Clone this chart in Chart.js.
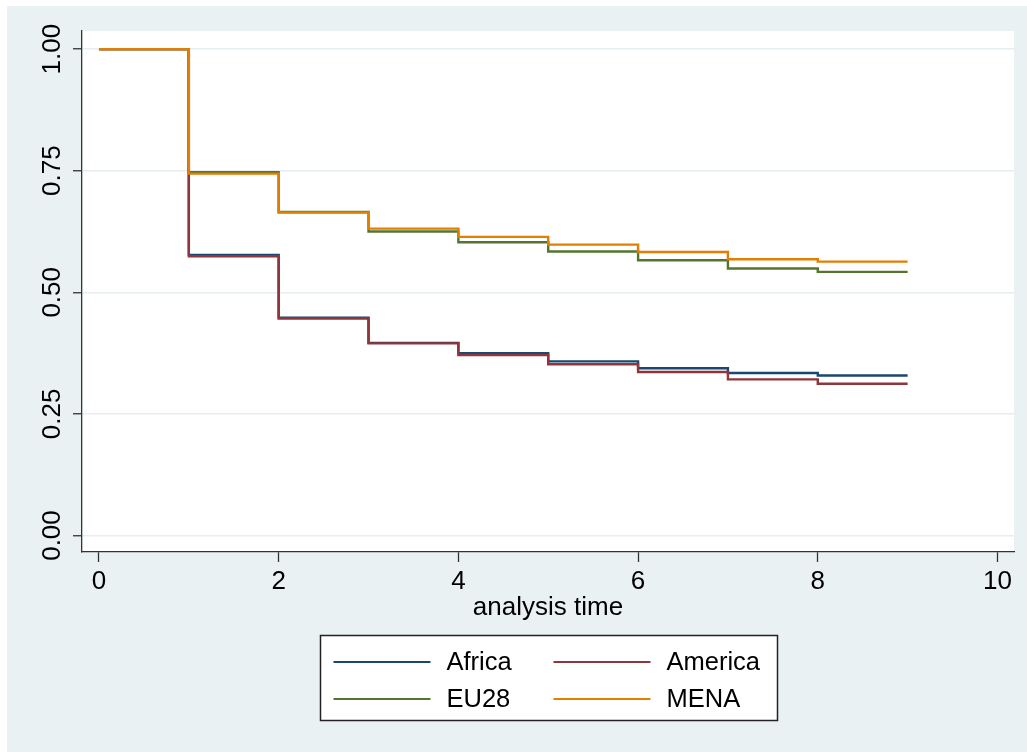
<!DOCTYPE html>
<html>
<head>
<meta charset="utf-8">
<title>Kaplan-Meier survival estimates by region</title>
<script src="https://cdn.jsdelivr.net/npm/chart.js@4.4.1/dist/chart.umd.min.js"></script>
<style>
  html, body { margin: 0; padding: 0; background: #ffffff; }
  #wrap { width: 1027px; height: 752px; }
  canvas { display: block; }
</style>
</head>
<body>
<div id="wrap"><canvas id="km" width="1027" height="752"></canvas></div>
<script>
// Analysis time (years) at which the survivor function is evaluated
const times = [0, 1, 2, 3, 4, 5, 6, 7, 8, 9];

// Survivor function estimates per region group (value holds until the next time)
const africa  = [1.000, 0.577, 0.448, 0.396, 0.375, 0.358, 0.344, 0.334, 0.329, 0.329];
const america = [1.000, 0.574, 0.446, 0.395, 0.371, 0.352, 0.336, 0.321, 0.312, 0.312];
const eu28    = [1.000, 0.747, 0.665, 0.625, 0.603, 0.584, 0.566, 0.549, 0.542, 0.542];
const mena    = [1.000, 0.744, 0.664, 0.631, 0.614, 0.598, 0.583, 0.568, 0.563, 0.563];

const seriesNames = ['Africa', 'America', 'EU28', 'MENA'];
const seriesValues = [africa, america, eu28, mena];
const seriesColors = ['#1a476f', '#90353b', '#55752f', '#e37e00'];

// Axis tick labels
const xTicks = [0, 2, 4, 6, 8, 10];
const yTicks = [0, 0.25, 0.5, 0.75, 1];
const xTitle = 'analysis time';

const FONT = "'Liberation Sans', Arial, Helvetica, sans-serif";
const regionColor = '#eaf1f3';
const gridColor = '#e6eef1';
const axisColor = '#333333';

// Graph region (bluish gray) and plot region (white)
const backgroundPlugin = {
  id: 'regions',
  beforeDraw(chart) {
    const { ctx, chartArea: a } = chart;
    ctx.save();
    ctx.fillStyle = '#ffffff';
    ctx.fillRect(0, 0, chart.width, chart.height);
    ctx.fillStyle = regionColor;
    ctx.fillRect(7, 6, chart.width - 7, chart.height - 6);
    ctx.fillStyle = '#ffffff';
    ctx.fillRect(a.left, a.top, a.right - a.left, a.bottom - a.top);
    ctx.restore();
  }
};

// Boxed two-column key beneath the axis title
const keyPlugin = {
  id: 'boxKey',
  afterDraw(chart) {
    const { ctx, chartArea: a } = chart;
    const boxW = 457, boxH = 85;
    const cx = (a.left + a.right) / 2;
    const left = Math.round(cx - boxW / 2) + 0.5;
    const top = 635.5;
    ctx.save();
    ctx.fillStyle = '#ffffff';
    ctx.fillRect(left, top, boxW, boxH);
    ctx.strokeStyle = '#222222';
    ctx.lineWidth = 1.5;
    ctx.strokeRect(left, top, boxW, boxH);
    ctx.font = '25.5px ' + FONT;
    ctx.textBaseline = 'middle';
    ctx.fillStyle = '#000000';
    chart.data.datasets.forEach((ds, i) => {
      const col = i % 2, row = Math.floor(i / 2);
      const lx = left + 13 + col * 220;
      const ly = top + 26.5 + row * 37;
      ctx.strokeStyle = ds.borderColor;
      ctx.lineWidth = 2;
      ctx.beginPath();
      ctx.moveTo(lx, ly);
      ctx.lineTo(lx + 97, ly);
      ctx.stroke();
      ctx.fillText(ds.label, lx + 113, ly + 1);
    });
    ctx.restore();
  }
};

const datasets = seriesNames.map((name, i) => ({
  label: name,
  data: times.map((t, k) => ({ x: t, y: seriesValues[i][k] })),
  borderColor: seriesColors[i],
  backgroundColor: seriesColors[i],
  borderWidth: 2.4,
  pointRadius: 0,
  pointHoverRadius: 0,
  stepped: 'before',
  fill: false,
  order: seriesNames.length - i
}));

new Chart(document.getElementById('km'), {
  type: 'line',
  data: { datasets },
  plugins: [backgroundPlugin, keyPlugin],
  options: {
    responsive: false,
    animation: false,
    devicePixelRatio: 1,
    layout: { padding: { left: 0, right: 13, top: 31, bottom: 129 } },
    plugins: {
      legend: { display: false },
      tooltip: { enabled: false },
      title: { display: false }
    },
    scales: {
      x: {
        type: 'linear',
        min: -0.189,
        max: 10.184,
        afterBuildTicks(scale) { scale.ticks = xTicks.map(v => ({ value: v })); },
        afterFit(scale) { scale.height = 71; },
        ticks: {
          color: '#000000',
          font: { family: FONT, size: 26 },
          padding: 4,
          maxRotation: 0,
          minRotation: 0,
          callback: v => String(v)
        },
        grid: {
          drawOnChartArea: false,
          drawTicks: true,
          tickLength: 10,
          tickColor: axisColor,
          tickWidth: 1.3
        },
        border: { display: true, color: axisColor, width: 1.3 },
        title: {
          display: true,
          text: xTitle,
          color: '#000000',
          font: { family: FONT, size: 26 },
          padding: { top: 0, bottom: 0 }
        }
      },
      y: {
        type: 'linear',
        min: -0.0339,
        max: 1.0372,
        afterBuildTicks(scale) { scale.ticks = yTicks.map(v => ({ value: v })); },
        afterFit(scale) { scale.width = 82; },
        ticks: {
          color: '#000000',
          font: { family: FONT, size: 26 },
          minRotation: 90,
          maxRotation: 90,
          crossAlign: 'center',
          padding: -5,
          callback: v => Number(v).toFixed(2)
        },
        grid: {
          drawOnChartArea: true,
          color: gridColor,
          lineWidth: 1.5,
          drawTicks: true,
          tickLength: 9,
          tickColor: axisColor,
          tickWidth: 1.3
        },
        border: { display: true, color: axisColor, width: 1.3 }
      }
    }
  }
});
</script>
</body>
</html>
